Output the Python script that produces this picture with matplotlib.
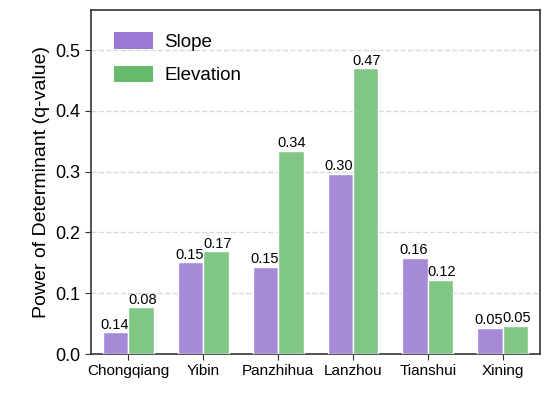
import matplotlib.pyplot as plt
import numpy as np
from matplotlib.patches import Patch

plt.rcParams['font.family'] = ['Liberation Sans', 'DejaVu Sans']

# data
cities = ['Chongqiang', 'Yibin', 'Panzhihua', 'Lanzhou', 'Tianshui', 'Xining']
slope = [0.036, 0.151, 0.143, 0.296, 0.158, 0.043]
elevation = [0.077, 0.169, 0.334, 0.470, 0.122, 0.046]
slope_labels = ['0.14', '0.15', '0.15', '0.30', '0.16', '0.05']
elev_labels = ['0.08', '0.17', '0.34', '0.47', '0.12', '0.05']

fig = plt.figure(figsize=(5.5, 3.96), dpi=100)
ax = fig.add_axes([0.1655, 0.106, 0.8165, 0.869])

x = np.arange(len(cities))
w = 0.34
b1 = ax.bar(x - w / 2, slope, w, color='#a68ad8', edgecolor='white', linewidth=1, zorder=3)
b2 = ax.bar(x + w / 2, elevation, w, color='#80c684', edgecolor='white', linewidth=1, zorder=3)

# value labels, nudged apart slightly so neighbouring ones don't collide
for rect, lab in zip(b1, slope_labels):
    ax.text(rect.get_x() + rect.get_width() / 2 - 0.015, rect.get_height() + 0.001, lab,
            ha='center', va='bottom', fontsize=10.5)
for rect, lab in zip(b2, elev_labels):
    ax.text(rect.get_x() + rect.get_width() / 2 + 0.015, rect.get_height() + 0.001, lab,
            ha='center', va='bottom', fontsize=10.5)

ax.set_xlim(-0.5, 5.5)
ax.set_ylim(0, 0.566)
ax.set_xticks(x)
ax.set_xticklabels(cities, fontsize=11)
ax.set_yticks([0.0, 0.1, 0.2, 0.3, 0.4, 0.5])
ax.set_yticklabels(['0.0', '0.1', '0.2', '0.3', '0.4', '0.5'], fontsize=13)
ax.tick_params(direction='out', length=4, color='#333333')
ax.set_ylabel('Power of Determinant (q-value)', fontsize=14)
ax.yaxis.grid(True, linestyle='--', color='#d9d9d9', linewidth=1, zorder=0)
for s in ax.spines.values():
    s.set_color('#333333')
    s.set_linewidth(1.2)

handles = [Patch(facecolor='#9a78d6', label='Slope'),
           Patch(facecolor='#66bb6a', label='Elevation')]
ax.legend(handles=handles, loc='upper left', frameon=False, fontsize=13.5,
          handlelength=2.1, handleheight=0.95, labelspacing=0.8,
          borderaxespad=0.8, handletextpad=0.6)

fig.savefig('out.png', dpi=100)
